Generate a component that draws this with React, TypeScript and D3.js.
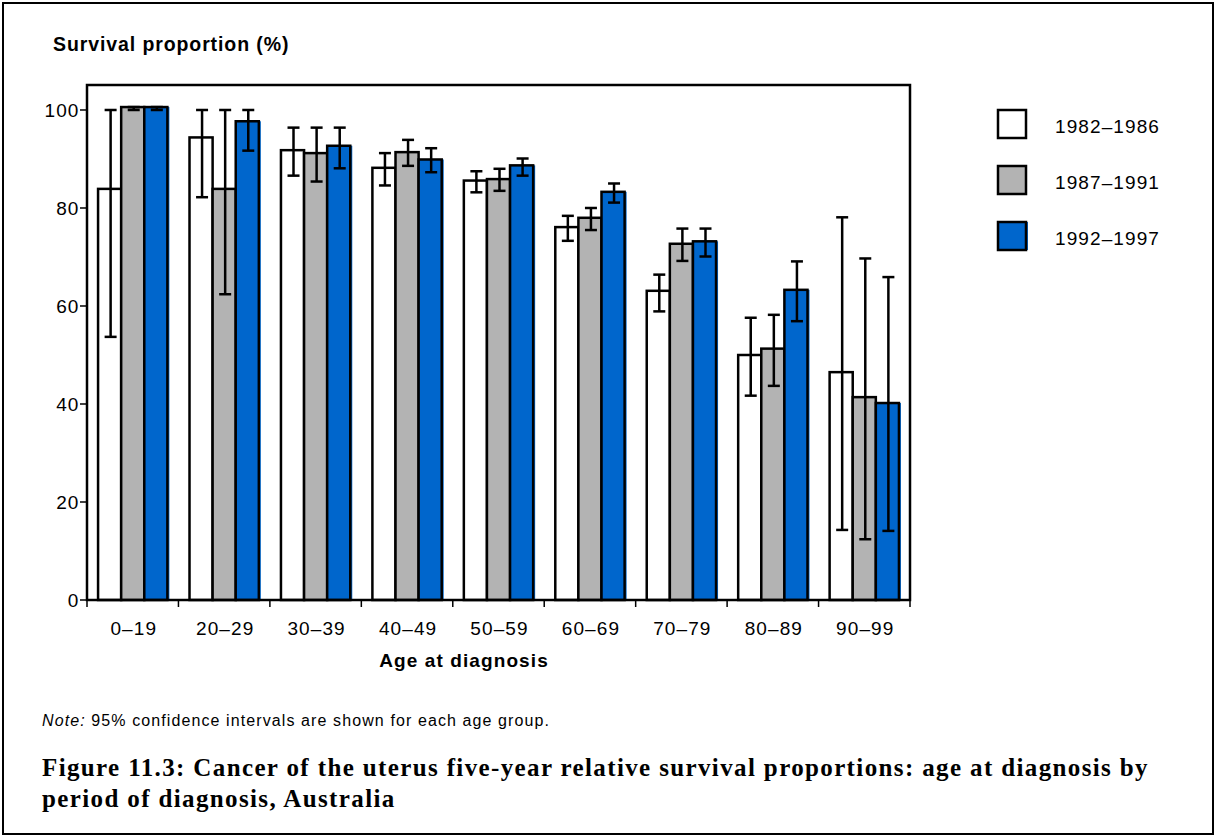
import React from "react";
import * as d3 from "d3";

const categories = ["0–19", "20–29", "30–39", "40–49", "50–59", "60–69", "70–79", "80–89", "90–99"];
const seriesNames = ["1982–1986", "1987–1991", "1992–1997"];

const values1982 = [83.9, 94.4, 91.8, 88.2, 85.6, 76.1, 63.1, 50.0, 46.5];
const low1982 = [53.7, 82.2, 86.6, 84.6, 83.2, 73.3, 58.9, 41.7, 14.3];
const high1982 = [100, 100, 96.4, 91.2, 87.5, 78.4, 66.4, 57.6, 78.1];

const values1987 = [100.6, 83.9, 91.2, 91.4, 85.9, 78.0, 72.7, 51.3, 41.4];
const low1987 = [100, 62.4, 85.4, 88.6, 83.5, 75.5, 69.2, 43.7, 12.4];
const high1987 = [100.6, 100, 96.4, 93.9, 88.0, 80.0, 75.8, 58.2, 69.7];

const values1992 = [100.6, 97.7, 92.7, 89.9, 88.7, 83.3, 73.2, 63.3, 40.2];
const low1992 = [100, 91.7, 88.1, 87.3, 86.6, 81.1, 70.1, 56.9, 14.1];
const high1992 = [100.6, 100, 96.4, 92.2, 90.1, 85.0, 75.8, 69.1, 65.9];

const yTicks = [0, 20, 40, 60, 80, 100];

const seriesValues = [values1982, values1987, values1992];
const seriesLow = [low1982, low1987, low1992];
const seriesHigh = [high1982, high1987, high1992];
const colors = ["#ffffff", "#b3b3b3", "#0066cc"];

const W = 1217;
const H = 837;
const plot = { left: 87, right: 910, top: 85, bottom: 600 };
const SANS = "'Liberation Sans', Arial, Helvetica, sans-serif";
const SERIF = "'Liberation Serif', 'Times New Roman', serif";

export default function App() {
  const x = d3
    .scaleBand<string>()
    .domain(categories)
    .range([plot.left, plot.right])
    .paddingInner(0.242)
    .paddingOuter(0.121);
  const xs = d3.scaleBand<string>().domain(seriesNames).range([0, x.bandwidth()]).padding(0);
  const y = d3.scaleLinear().domain([0, 105.1]).range([plot.bottom, plot.top]);
  const step = x.step();
  const boundaries = d3.range(categories.length + 1).map((i) => plot.left + i * step);
  const capHalf = 6;

  return (
    <svg
      width={W}
      height={H}
      style={{ position: "absolute", left: 0, top: 0, display: "block", background: "#fff" }}
    >
      <rect x={3} y={3} width={1210} height={831} fill="#fff" stroke="#000" strokeWidth={2} />

      <text x={53} y={51} fontFamily={SANS} fontWeight="bold" fontSize={19.5} letterSpacing={0.9} fill="#000">
        Survival proportion (%)
      </text>

      {/* bars */}
      {seriesNames.map((s, si) => (
        <g key={s}>
          {categories.map((c, ci) => {
            const bx = (x(c) as number) + (xs(s) as number);
            const bw = xs.bandwidth();
            const top = y(seriesValues[si][ci]);
            return (
              <g key={c}>
                {si === 2 && (
                  <rect x={bx} y={top} width={bw + 2} height={plot.bottom - top} fill={colors[si]} />
                )}
                <rect
                  x={bx}
                  y={top}
                  width={bw}
                  height={plot.bottom - top}
                  fill={colors[si]}
                  stroke="#000"
                  strokeWidth={2.5}
                />
              </g>
            );
          })}
        </g>
      ))}

      {/* error bars */}
      {seriesNames.map((s, si) => (
        <g key={s + "err"} stroke="#000" strokeWidth={2.5}>
          {categories.map((c, ci) => {
            const cx = (x(c) as number) + (xs(s) as number) + xs.bandwidth() / 2 + 1;
            const lo = y(seriesLow[si][ci]);
            const hi = y(seriesHigh[si][ci]);
            return (
              <g key={c}>
                <line x1={cx} x2={cx} y1={lo} y2={hi} />
                <line x1={cx - capHalf} x2={cx + capHalf} y1={lo} y2={lo} />
                <line x1={cx - capHalf} x2={cx + capHalf} y1={hi} y2={hi} />
              </g>
            );
          })}
        </g>
      ))}

      {/* plot frame */}
      <rect
        x={plot.left}
        y={plot.top}
        width={plot.right - plot.left}
        height={plot.bottom - plot.top}
        fill="none"
        stroke="#000"
        strokeWidth={2.5}
      />

      {/* y axis ticks */}
      {yTicks.map((t) => (
        <g key={t}>
          <line x1={plot.left - 7} x2={plot.left} y1={y(t)} y2={y(t)} stroke="#000" strokeWidth={1.5} />
          <text
            x={79.5}
            y={y(t) + 7}
            textAnchor="end"
            fontFamily={SANS}
            fontSize={19}
            letterSpacing={1.1}
            fill="#000"
          >
            {t}
          </text>
        </g>
      ))}

      {/* x axis ticks */}
      {boundaries.map((bx, i) => (
        <line key={i} x1={bx} x2={bx} y1={plot.bottom} y2={plot.bottom + 7} stroke="#000" strokeWidth={1.5} />
      ))}
      {categories.map((c) => (
        <text
          key={c}
          x={(x(c) as number) + x.bandwidth() / 2 + 1}
          y={635}
          textAnchor="middle"
          fontFamily={SANS}
          fontSize={19}
          letterSpacing={1.1}
          fill="#000"
        >
          {c}
        </text>
      ))}
      <text
        x={464}
        y={667}
        textAnchor="middle"
        fontFamily={SANS}
        fontWeight="bold"
        fontSize={19}
        letterSpacing={1.1}
        fill="#000"
      >
        Age at diagnosis
      </text>

      {/* legend */}
      {seriesNames.map((s, i) => (
        <g key={s + "leg"} transform={`translate(998, ${110 + i * 56})`}>
          {i === 2 && <rect x={0} y={0} width={30} height={28} fill={colors[i]} />}
          <rect x={0} y={0} width={28} height={28} fill={colors[i]} stroke="#000" strokeWidth={2.5} />
          <text x={57} y={23} fontFamily={SANS} fontSize={19} letterSpacing={1.1} fill="#000">
            {s}
          </text>
        </g>
      ))}

      {/* note */}
      <text x={42} y={726} fontFamily={SANS} fontSize={16} letterSpacing={1.1} fill="#000">
        <tspan fontStyle="italic">Note:</tspan> 95% confidence intervals are shown for each age group.
      </text>

      {/* caption */}
      <text x={42} y={776} fontFamily={SERIF} fontWeight="bold" fontSize={25} letterSpacing={1.37} fill="#000">
        Figure 11.3: Cancer of the uterus five-year relative survival proportions: age at diagnosis by
      </text>
      <text x={42} y={807} fontFamily={SERIF} fontWeight="bold" fontSize={25} letterSpacing={1.37} fill="#000">
        period of diagnosis, Australia
      </text>
    </svg>
  );
}
